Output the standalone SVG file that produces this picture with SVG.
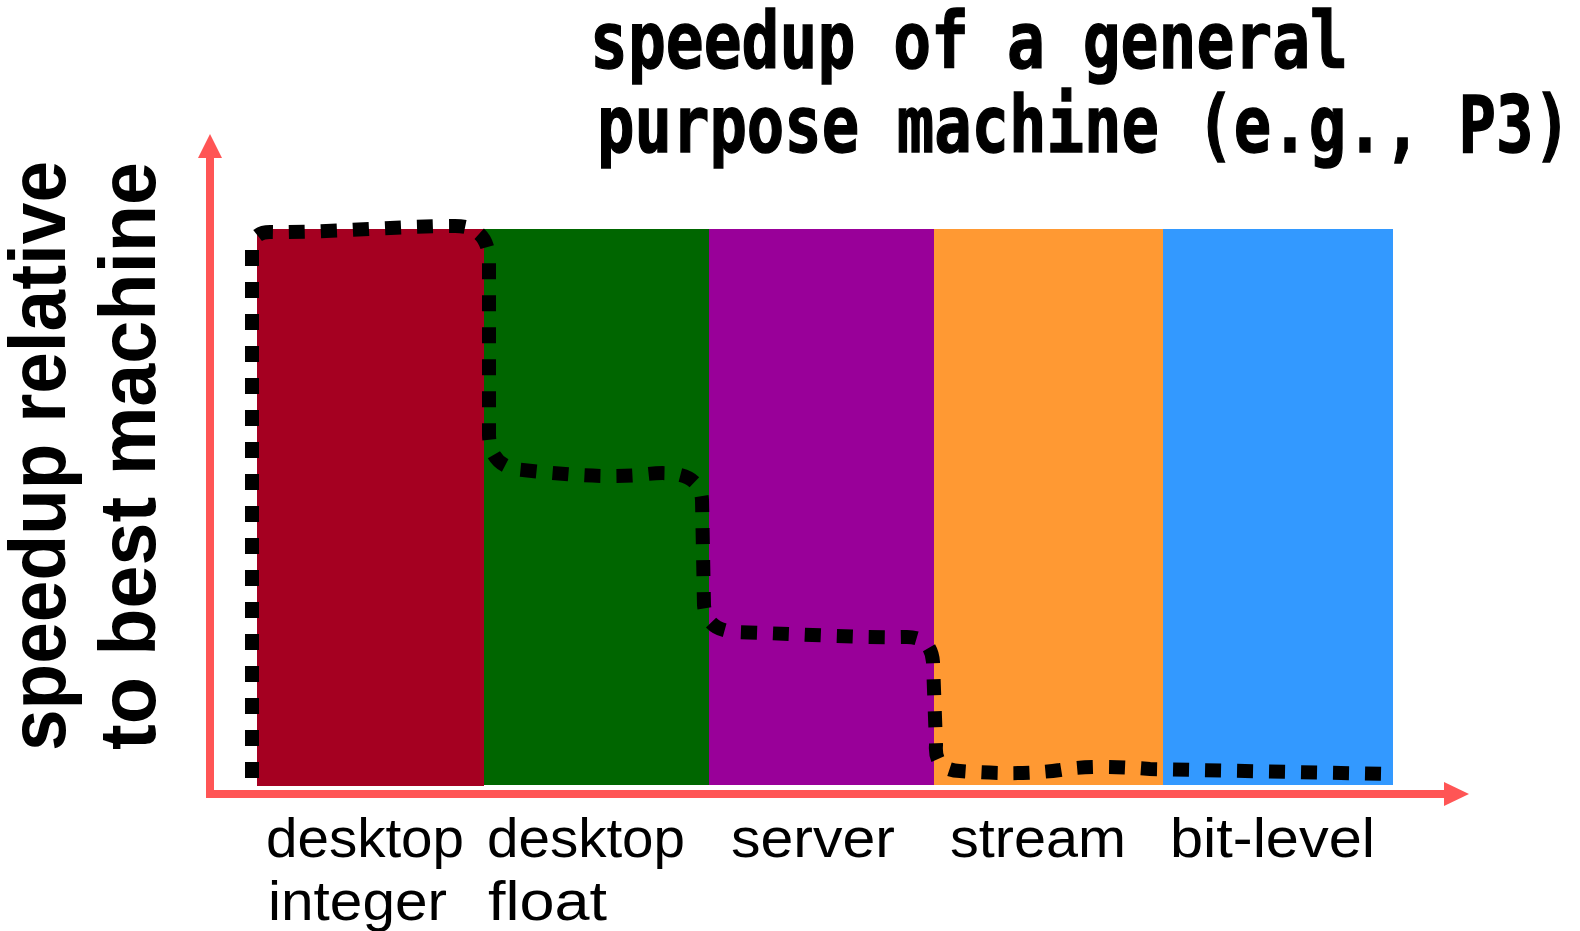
<svg xmlns="http://www.w3.org/2000/svg" width="1580" height="931" viewBox="0 0 1580 931">
<style>
.title{font-family:"DejaVu Sans Mono","Liberation Mono",monospace;font-weight:bold;font-size:79px;fill:#000;stroke:#000;stroke-width:1.4px}
.ylab{font-family:"Liberation Sans",Arial,sans-serif;font-weight:bold;font-size:79px;fill:#000}
.cat{font-family:"Liberation Sans",Arial,sans-serif;font-size:56px;fill:#000}
.axis{fill:none;stroke:#FF5555;stroke-width:8}
.arrow{fill:#FF5555}
.curve{fill:none;stroke:#000;stroke-width:14;stroke-dasharray:16 16;stroke-linecap:butt}
</style>
<rect width="1580" height="931" fill="#fff"/>
<g id="title">
<text class="title" x="590" y="68" textLength="758" lengthAdjust="spacingAndGlyphs">speedup of a general</text>
<text class="title" x="597" y="152" textLength="974" lengthAdjust="spacingAndGlyphs">purpose machine (e.g., P3)</text>
</g>
<g id="y-label">
<text class="ylab" transform="translate(65,751) rotate(-90)" x="0" y="0" textLength="590" lengthAdjust="spacingAndGlyphs">speedup relative</text>
<text class="ylab" transform="translate(155,750) rotate(-90)" x="0" y="0" textLength="588" lengthAdjust="spacingAndGlyphs">to best machine</text>
</g>
<g id="desktop-integer">
<rect x="257" y="229" width="227" height="557" fill="#A50021"/>
<text class="cat" y="857"><tspan x="266" textLength="198" lengthAdjust="spacingAndGlyphs">desktop</tspan><tspan x="268" y="920" textLength="179" lengthAdjust="spacingAndGlyphs">integer</tspan></text>
</g>
<g id="desktop-float">
<rect x="484" y="229" width="225" height="556" fill="#006600"/>
<text class="cat" y="857"><tspan x="487" textLength="198" lengthAdjust="spacingAndGlyphs">desktop</tspan><tspan x="488" y="920" textLength="119" lengthAdjust="spacingAndGlyphs">float</tspan></text>
</g>
<g id="server">
<rect x="709" y="229" width="225" height="556" fill="#990099"/>
<text class="cat" x="731" y="857" textLength="164" lengthAdjust="spacingAndGlyphs">server</text>
</g>
<g id="stream">
<rect x="934" y="229" width="229" height="556" fill="#FF9933"/>
<text class="cat" x="950" y="857" textLength="176" lengthAdjust="spacingAndGlyphs">stream</text>
</g>
<g id="bit-level">
<rect x="1163" y="229" width="230" height="556" fill="#3399FF"/>
<text class="cat" x="1170" y="857" textLength="205" lengthAdjust="spacingAndGlyphs">bit-level</text>
</g>
<g id="axes">
<path class="axis" d="M210 156 L210 794 L1446 794"/>
<polygon class="arrow" points="210,134 198,158 222,158"/>
<polygon class="arrow" points="1469,794 1444,782 1444,806"/>
</g>
<g id="connectors">
<path class="curve" d="M252 778 L252 250 Q252 231 272 232 C320 233 400 226 455 226 Q487 226 489 258 L489 435 Q490 468 523 470 C560 474 600 478 640 475 Q700 466 702 500 L704 605 Q706 630 735 632 C800 634 860 638 905 637 Q931 636 933 662 L936 745 Q934 770 960 771 C1000 774 1030 774 1060 770 C1085 766 1110 766 1150 769 L1390 774"/>
</g>
</svg>
